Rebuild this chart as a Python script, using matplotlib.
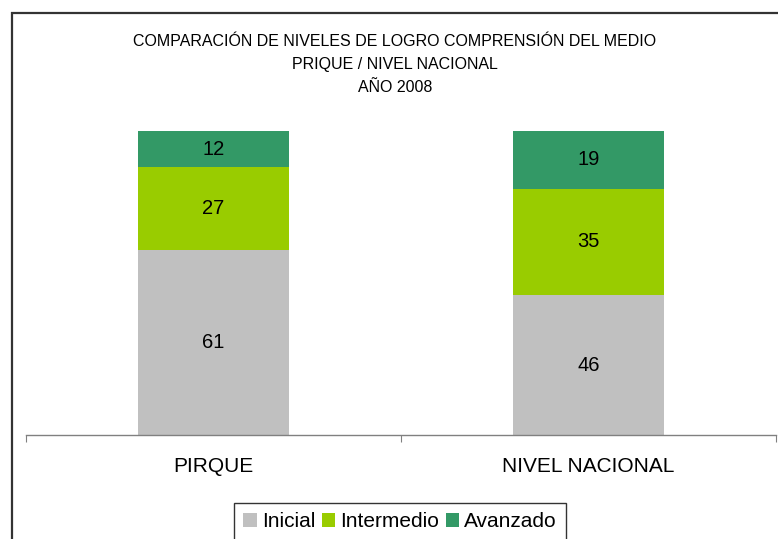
import matplotlib
matplotlib.use("Agg")
import matplotlib.pyplot as plt
from matplotlib.lines import Line2D
from matplotlib.patches import Patch

plt.rcParams['font.family'] = ['Liberation Sans', 'DejaVu Sans']

categories = ["PIRQUE", "NIVEL NACIONAL"]
series_names = ["Inicial", "Intermedio", "Avanzado"]
inicial = [61, 46]
intermedio = [27, 35]
avanzado = [12, 19]
colors = ["#C0C0C0", "#99CC00", "#339966"]
title_lines = ["COMPARACIÓN DE NIVELES DE LOGRO COMPRENSIÓN DEL MEDIO",
               "PRIQUE / NIVEL NACIONAL",
               "AÑO 2008"]

W, H = 778, 539
fig = plt.figure(figsize=(W / 100, H / 100), dpi=100)
fig.patch.set_facecolor("white")

# outer chart frame (partially cut off in the reference)
fig.add_artist(Line2D([11.5 / W, 11.5 / W], [1 - 12 / H, 0], color="#333333", lw=1.6,
                      transform=fig.transFigure, solid_capstyle="butt"))
fig.add_artist(Line2D([10.9 / W, 1], [1 - 12.5 / H, 1 - 12.5 / H], color="#333333", lw=1.6,
                      transform=fig.transFigure, solid_capstyle="butt"))

ax = fig.add_axes([26 / W, 1 - 435 / H, 750 / W, 304 / H])
x = list(range(len(categories)))
series = [inicial, intermedio, avanzado]
bottom = [0] * len(categories)
for vals, name, col in zip(series, series_names, colors):
    ax.bar(x, vals, width=0.404, bottom=bottom, color=col, label=name, zorder=2)
    for xi, v, b in zip(x, vals, bottom):
        ax.text(xi, b + v / 2, str(v), ha="center", va="center", fontsize=14.5, color="black")
    bottom = [b + v for b, v in zip(bottom, vals)]

ax.set_xlim(-0.5, 1.5)
ax.set_ylim(0, 100)
for s in ["top", "right", "left"]:
    ax.spines[s].set_visible(False)
ax.spines["bottom"].set_color("#808080")
ax.spines["bottom"].set_linewidth(1.0)
ax.set_yticks([])
ax.set_xticks([-0.5, 0.5, 1.5])
ax.set_xticklabels([])
ax.tick_params(axis="x", which="major", direction="out", length=5, color="#808080")
ax.set_xticks(x, minor=True)
ax.set_xticklabels(categories, minor=True, fontsize=15)
ax.tick_params(axis="x", which="minor", length=0, pad=16)
ax.set_facecolor("none")

for i, line in enumerate(title_lines):
    fig.text(395 / W, 1 - (41 + i * 23.5) / H, line, ha="center", va="center", fontsize=11.5)

handles = [Patch(facecolor=c, edgecolor="none") for c in colors]
leg = fig.legend(handles, series_names, loc="upper left",
                 bbox_to_anchor=(234 / W, 1 - 503 / H), ncol=3, fontsize=15,
                 frameon=True, fancybox=False, handlelength=0.65, handleheight=0.65,
                 handletextpad=0.25, columnspacing=0.3, borderpad=0.45, borderaxespad=0)
leg.get_frame().set_edgecolor("black")
leg.get_frame().set_linewidth(1.0)

fig.savefig("out.png", dpi=100)
